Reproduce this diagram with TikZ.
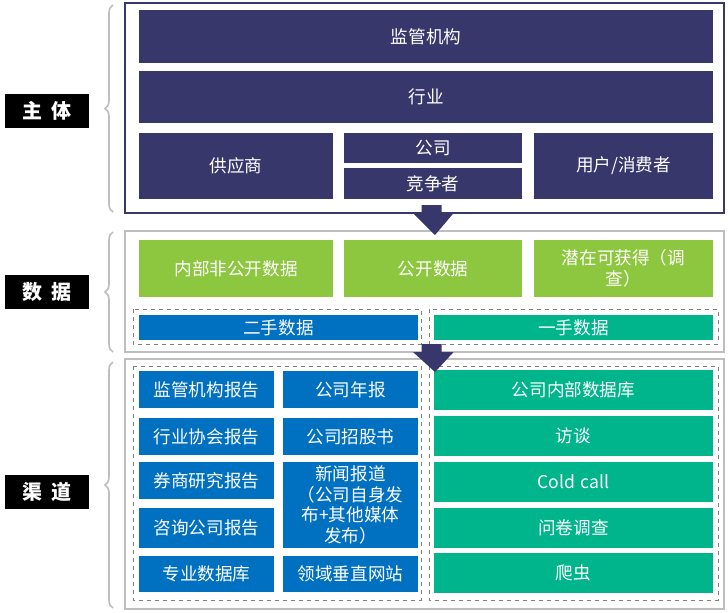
\documentclass[tikz,border=0pt]{standalone}
\usepackage{fontspec}
\setmainfont{Noto Sans CJK SC}
\usetikzlibrary{decorations.pathreplacing}

\definecolor{navy}{RGB}{56,55,108}
\definecolor{grn}{RGB}{141,198,63}
\definecolor{blu}{RGB}{0,112,192}
\definecolor{tea}{RGB}{0,180,140}
\definecolor{frame}{RGB}{190,190,190}

% cell: name, x1, y1, x2, y2, style, text
\newcommand{\cell}[7]{%
  \node[#6, minimum width={(#4-#2)*0.75pt}, minimum height={(#5-#3)*0.75pt},
        text width={(#4-#2)*0.75pt-6pt}] (#1) at ({(#2+#4)/2},{(#3+#5)/2}) {#7};}

\begin{document}
\begin{tikzpicture}[x=0.75pt,y=0.75pt,yscale=-1,xscale=1,
  box/.style={inner sep=0pt, align=center, text=white, font=\fontsize{13.2}{15.5}\selectfont},
  navybox/.style={box, fill=navy},
  grnbox/.style={box, fill=grn},
  blubox/.style={box, fill=blu},
  teabox/.style={box, fill=tea},
  tag/.style={fill=black, text=white, minimum width=63pt, minimum height=26pt,
    inner sep=0pt, font=\bfseries\fontsize{15}{18}\selectfont},
  brc/.style={draw=frame, line width=1.2pt, decorate, decoration={brace, amplitude=6pt}},
  dashbox/.style={draw=gray, dashed, line width=0.6pt},
  blockarrow/.style={fill=navy}]
\useasboundingbox (0,0) rectangle (728,612);

%outer frames
\draw[navy, line width=2.2pt] (125,3) rectangle (724,213);
\draw[frame, line width=2pt] (125,231) rectangle (724,352);
\draw[frame, line width=2pt] (125,359) rectangle (724,609);
\coordinate (topS) at (435,213);
\coordinate (dataS) at (435,352);

%subject
\cell{reg}{139}{10}{713}{63}{navybox}{监管机构}
\cell{ind}{139}{71}{713}{123}{navybox}{行业}
\cell{sup}{139}{133}{333}{199}{navybox}{供应商}
\cell{com}{344}{133}{522}{163}{navybox}{公司}
\cell{cmp}{344}{168}{522}{199}{navybox}{竞争者}
\cell{usr}{534}{133}{713}{199}{navybox}{用户/消费者}

%data
\cell{priv}{139}{240}{333}{297}{grnbox}{内部非公开数据}
\cell{pub}{344}{240}{522}{297}{grnbox}{公开数据}
\cell{pot}{534}{240}{713}{297}{grnbox}{潜在可获得（调\\查）}
\draw[dashbox] (133,309) rectangle (421,344);
\draw[dashbox] (429,309) rectangle (718,344);
\cell{sec}{139}{315}{418}{340}{blubox}{二手数据}
\cell{fst}{434}{315}{713}{340}{teabox}{一手数据}

%channels
\draw[dashbox] (133,366) rectangle (421,600);
\draw[dashbox] (429,366) rectangle (718,600);
\cell{c1}{139}{371}{274}{408}{blubox}{监管机构报告}
\cell{c2}{283}{371}{418}{408}{blubox}{公司年报}
\cell{c3}{139}{418}{274}{455}{blubox}{行业协会报告}
\cell{c4}{283}{418}{418}{455}{blubox}{公司招股书}
\cell{c5}{139}{462}{274}{499}{blubox}{券商研究报告}
\cell{c6}{283}{462}{418}{548}{blubox}{新闻报道\\（公司自身发\\布+其他媒体\\发布）}
\cell{c7}{139}{508}{274}{548}{blubox}{咨询公司报告}
\cell{c8}{139}{556}{274}{592}{blubox}{专业数据库}
\cell{c9}{283}{556}{418}{592}{blubox}{领域垂直网站}
\cell{p1}{434}{370}{713}{410}{teabox}{公司内部数据库}
\cell{p2}{434}{416}{713}{456}{teabox}{访谈}
\cell{p3}{434}{462}{713}{502}{teabox}{Cold call}
\cell{p4}{434}{508}{713}{548}{teabox}{问卷调查}
\cell{p5}{434}{553}{713}{593}{teabox}{爬虫}

%arrows
\fill[blockarrow] ([xshift=-10]topS) -- ++(0,-8) -- ++(20,0) -- ++(0,8)
  -- ++(12,0) -- (435,235) -- (413,213) -- cycle;
\fill[blockarrow] ([xshift=-10]dataS) -- ++(0,-8) -- ++(20,0) -- ++(0,8)
  -- ++(12,0) -- (435,372) -- (413,352) -- cycle;

%tags and braces
\node[tag] (t1) at (47,111) {主\ \ 体};
\node[tag] (t2) at (47,292) {数\ \ 据};
\node[tag] (t3) at (47,492) {渠\ \ 道};
\draw[brc] (113,212) -- (113,5);
\draw[brc] (113,352) -- (113,232);
\draw[brc] (113,608) -- (113,362);
\end{tikzpicture}
\end{document}
